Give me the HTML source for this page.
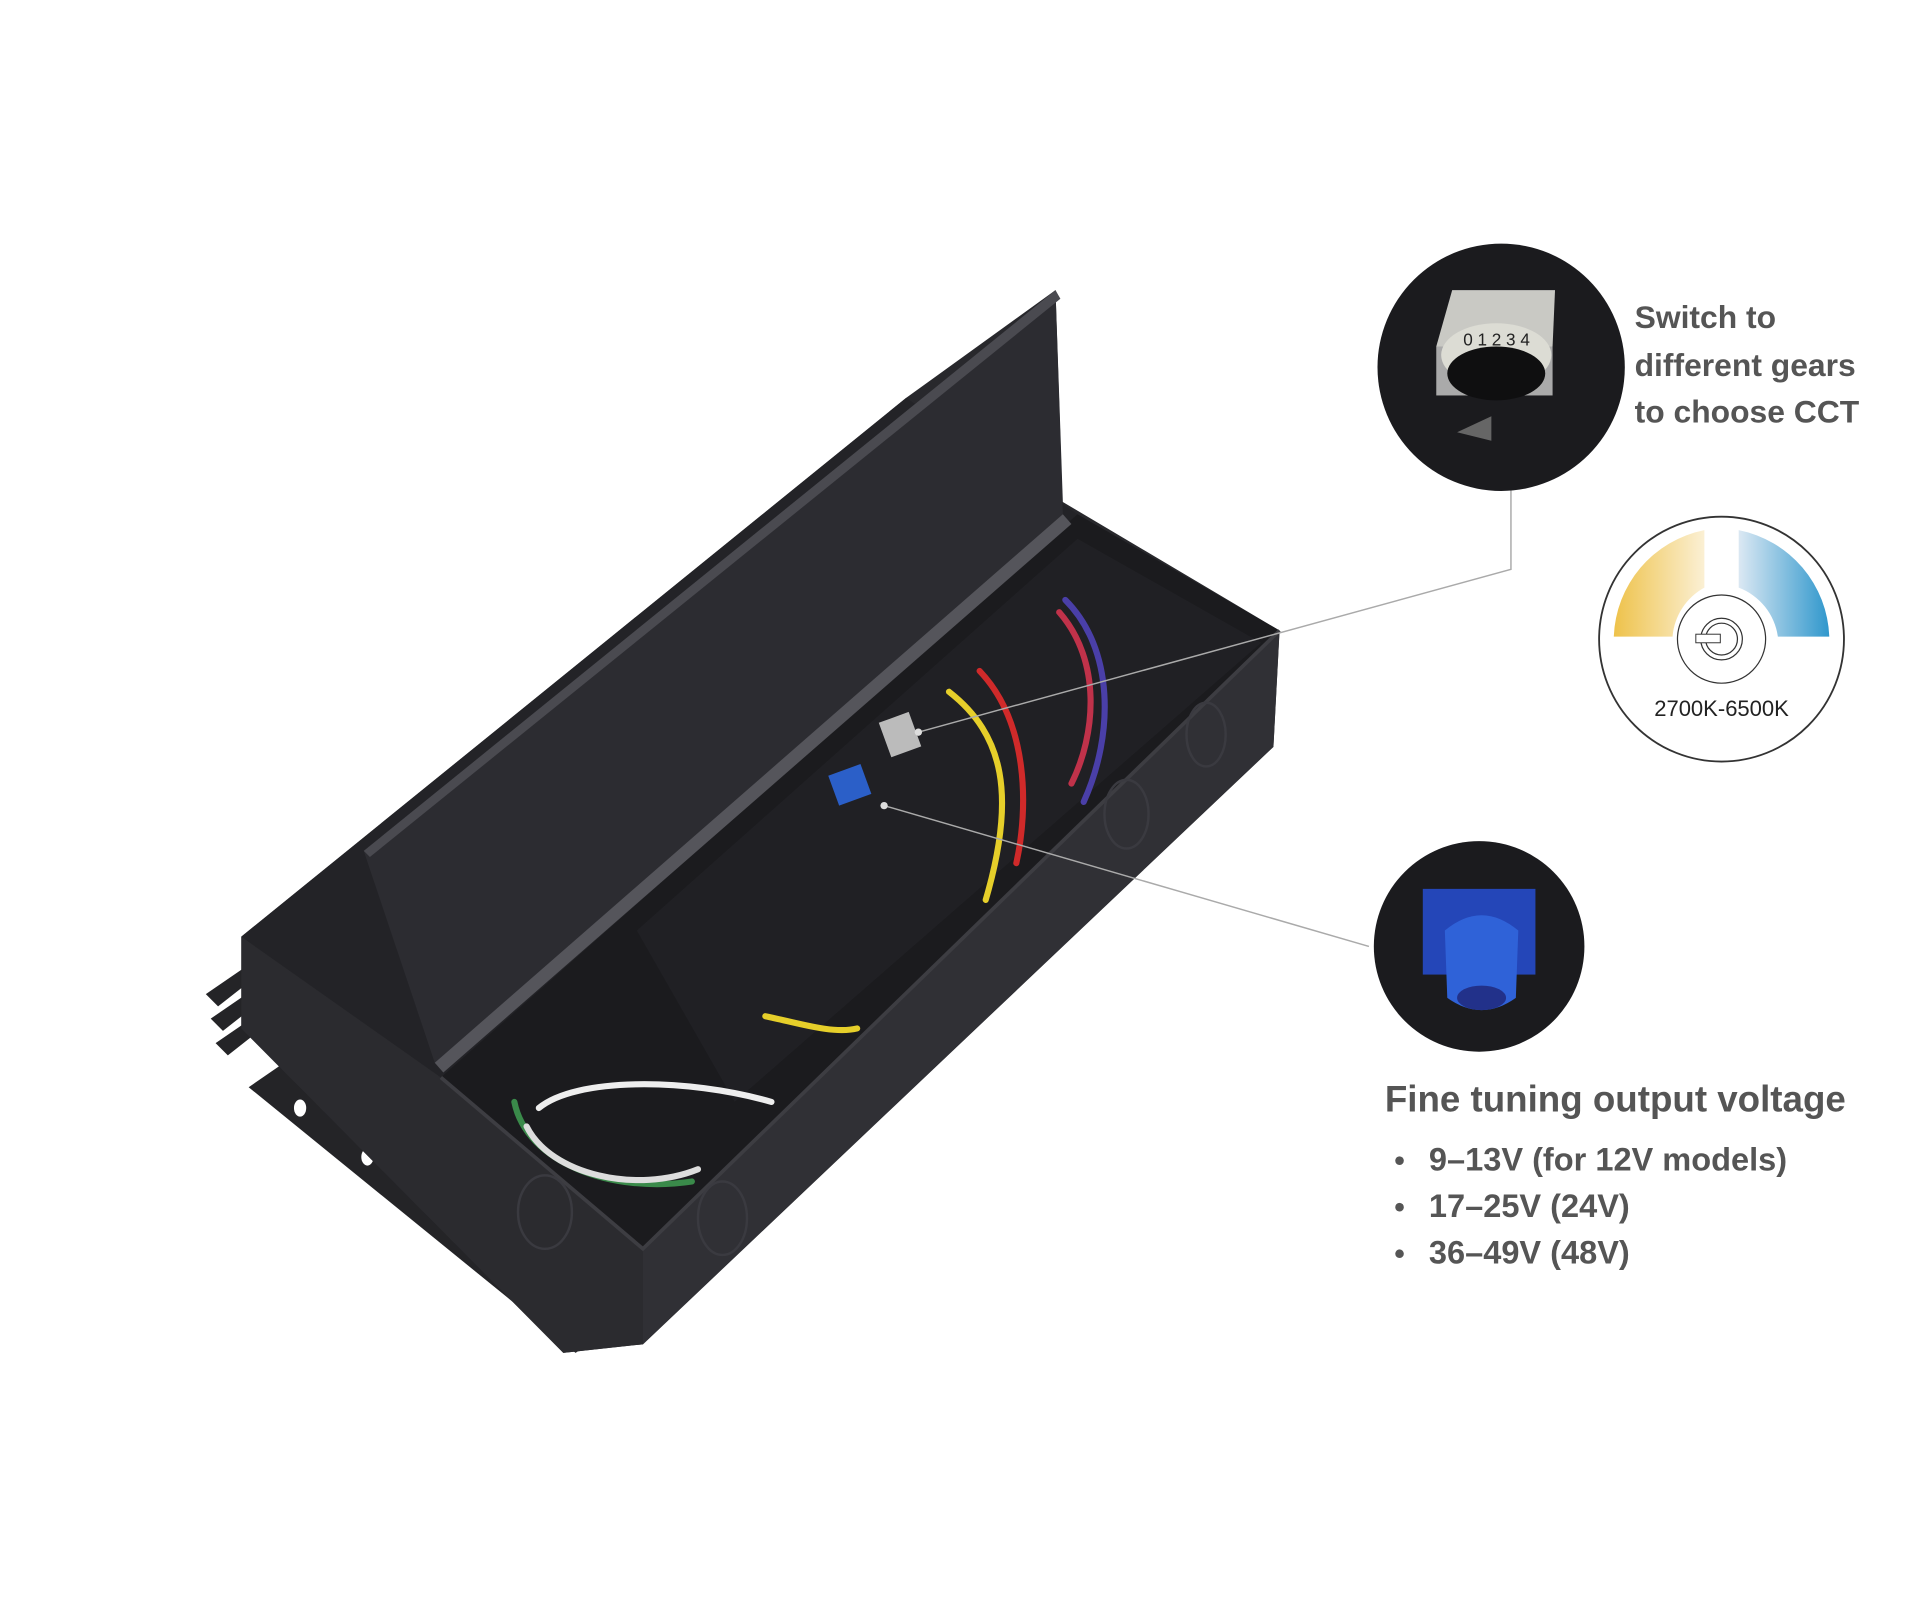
<!DOCTYPE html>
<html><head><meta charset="utf-8"><style>
html,body{margin:0;padding:0;background:#fff;width:1920px;height:1610px;overflow:hidden}
svg{display:block}
text{font-family:"Liberation Sans",sans-serif}
</style></head><body>
<svg width="1920" height="1610" viewBox="0 0 1568 1315" xmlns="http://www.w3.org/2000/svg">
<defs>
<linearGradient id="warm" x1="0" x2="1"><stop offset="0" stop-color="#eec24a"/><stop offset="1" stop-color="#fbf0d4"/></linearGradient>
<linearGradient id="cool" x1="0" x2="1"><stop offset="0" stop-color="#dbe8f3"/><stop offset="1" stop-color="#2f97cc"/></linearGradient>
<clipPath id="cc"><circle cx="1406" cy="522" r="99"/></clipPath>
</defs>
<!-- tabs -->
<g fill="#242427">
<polygon points="168,812 200,790 206,800 178,822"/>
<polygon points="172,832 204,810 210,820 182,842"/>
<polygon points="176,852 208,830 214,840 186,862"/>
<polygon points="203,888 232,868 500,1085 470,1105"/>
</g>
<g fill="#fff"><ellipse cx="245" cy="905" rx="5" ry="7"/><ellipse cx="300" cy="945" rx="5" ry="7"/><ellipse cx="395" cy="1020" rx="5" ry="7"/></g>
<!-- base silhouette -->
<polygon points="197,765 740,325 862,237 868,410 1045,515 1040,610 525,1098 460,1105 197,840" fill="#28282c"/>
<!-- left end face + front face -->
<polygon points="197,765 360,880 525,1020 525,1098 460,1105 197,840" fill="#2b2b2f"/>
<polygon points="525,1020 1045,515 1040,610 525,1098" fill="#303035"/>
<!-- back wall -->
<polygon points="197,765 740,325 880,420 360,880" fill="#232327"/>
<!-- interior -->
<polygon points="360,880 880,420 1045,515 525,1020" fill="#1b1b1e"/>
<polygon points="520,760 880,440 1030,525 600,900" fill="#202024"/>
<!-- lid -->
<polygon points="297,695 862,237 868,420 355,868" fill="#2c2c31"/>
<polygon points="297,695 862,237 866,244 302,700" fill="#4a4a50"/>
<polygon points="355,868 868,420 875,428 362,876" fill="#55555b"/>
<!-- rim highlights -->
<polyline points="360,880 525,1020 1045,515" fill="none" stroke="#3d3d42" stroke-width="3"/>
<!-- knockouts -->
<g fill="none" stroke="#3a3a40" stroke-width="2">
<ellipse cx="445" cy="990" rx="22" ry="30"/><ellipse cx="590" cy="995" rx="20" ry="30"/>
<ellipse cx="920" cy="665" rx="18" ry="28"/><ellipse cx="985" cy="600" rx="16" ry="26"/>
</g>
<!-- wires -->
<g fill="none" stroke-width="5" stroke-linecap="round">
<path d="M775,565 C820,600 830,650 805,735" stroke="#e6cf2a"/>
<path d="M800,548 C840,590 840,660 830,705" stroke="#d02a2a"/>
<path d="M870,490 C910,530 910,600 885,655" stroke="#4a3fa8"/>
<path d="M865,500 C900,540 895,600 875,640" stroke="#c0324a"/>
<path d="M625,830 C650,835 680,845 700,840" stroke="#e6cf2a"/>
<path d="M420,900 C430,950 500,975 565,965" stroke="#3a8a4a"/>
<path d="M440,905 C470,880 560,880 630,900" stroke="#eeeeee"/>
<path d="M430,920 C450,960 520,975 570,955" stroke="#dddddd"/>
</g>
<!-- components -->
<rect x="722" y="585" width="26" height="30" fill="#bbb" transform="rotate(-20 735 600)"/>
<rect x="680" y="628" width="28" height="26" fill="#2b5fc8" transform="rotate(-20 694 641)"/>
<!-- leader lines -->
<g stroke="#aaa" stroke-width="1.2" fill="none">
<polyline points="1234,400 1234,465 750,598"/>
<line x1="722" y1="658" x2="1118" y2="773"/>
</g>
<circle cx="750" cy="598" r="3" fill="#ddd"/><circle cx="722" cy="658" r="3" fill="#ddd"/>
<!-- top circle -->
<circle cx="1226" cy="300" r="101" fill="#1b1b1e"/>
<rect x="1173" y="283" width="95" height="40" fill="#aaa"/>
<polygon points="1173,283 1186,237 1270,237 1268,283" fill="#c9c9c4"/>
<ellipse cx="1222" cy="290" rx="45" ry="26" fill="#dcdcd4"/>
<ellipse cx="1222" cy="305" rx="40" ry="22" fill="#0f0f10"/>
<text x="1195" y="282" font-size="14" fill="#222">0 1 2 3 4</text>
<polygon points="1190,353 1218,340 1218,360" fill="#666"/>
<text font-size="26" font-weight="bold" fill="#555"><tspan x="1335" y="268">Switch to</tspan><tspan x="1335" y="307">different gears</tspan><tspan x="1335" y="345">to choose CCT</tspan></text>
<!-- CCT circle -->
<circle cx="1406" cy="522" r="100" fill="#fff" stroke="#333" stroke-width="1.5"/>
<g clip-path="url(#cc)">
<path d="M1318,520 A92,92 0 0 1 1392,433 L1392,480 A50,50 0 0 0 1366,520 Z" fill="url(#warm)"/>
<path d="M1420,433 A92,92 0 0 1 1494,520 L1452,520 A50,50 0 0 0 1420,480 Z" fill="url(#cool)"/>
</g>
<circle cx="1406" cy="522" r="36" fill="#fff" stroke="#333" stroke-width="1"/>
<circle cx="1406" cy="522" r="17" fill="none" stroke="#333" stroke-width="1"/>
<circle cx="1406" cy="522" r="13" fill="none" stroke="#333" stroke-width="1"/>
<rect x="1385" y="518" width="20" height="7" fill="#fff" stroke="#333" stroke-width="0.8"/>
<text x="1406" y="585" font-size="18" fill="#222" text-anchor="middle">2700K-6500K</text>
<!-- blue circle -->
<circle cx="1208" cy="773" r="86" fill="#1b1b1e"/>
<rect x="1162" y="726" width="92" height="70" fill="#2446b8"/>
<path d="M1180,760 Q1210,735 1240,760 L1238,815 Q1210,835 1182,815 Z" fill="#2f62d8"/>
<ellipse cx="1210" cy="815" rx="20" ry="10" fill="#22318a"/>
<!-- voltage text -->
<text x="1131" y="908" font-size="30" font-weight="bold" fill="#555">Fine tuning output voltage</text>
<g fill="#555">
<circle cx="1143" cy="948" r="3.5"/><circle cx="1143" cy="986" r="3.5"/><circle cx="1143" cy="1024" r="3.5"/>
</g>
<text font-size="26.6" font-weight="bold" fill="#555"><tspan x="1167" y="956">9–13V (for 12V models)</tspan><tspan x="1167" y="994">17–25V (24V)</tspan><tspan x="1167" y="1032">36–49V (48V)</tspan></text>
</svg>
</body></html>
